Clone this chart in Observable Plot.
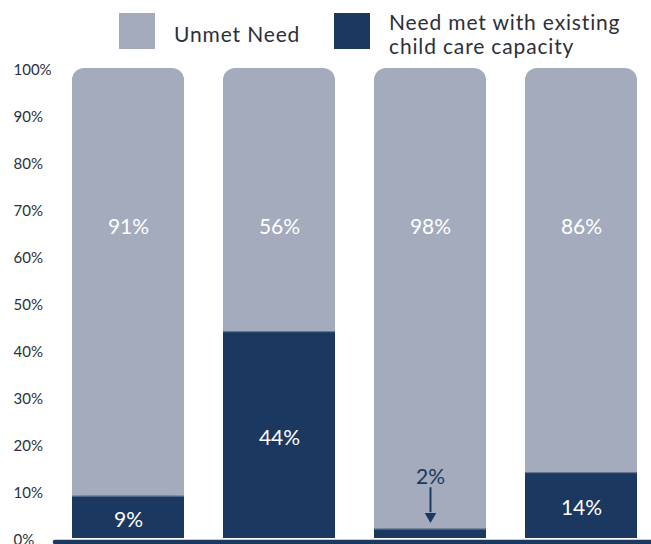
<!DOCTYPE html>
<html><head><meta charset="utf-8">
<script src="https://cdn.jsdelivr.net/npm/d3@7"></script>
<script src="https://cdn.jsdelivr.net/npm/@observablehq/plot@0.6"></script>
<style>
body{margin:0;background:#fff;font-family:Lato,"Open Sans",sans-serif;}
#wrap{position:relative;width:651px;height:544px;overflow:hidden;}
#chart{position:absolute;left:0;top:0;}
.sw{position:absolute;top:13px;width:36px;height:36px;}
.lt{position:absolute;font-size:21px;color:#2b2f3a;line-height:24px;letter-spacing:0.85px;white-space:nowrap;}
</style></head><body>
<div id="wrap">
  <div id="chart"></div>
  <div class="sw" style="left:119px;background:#a3abbd"></div>
  <div class="lt" style="left:174px;top:22px">Unmet Need</div>
  <div class="sw" style="left:334px;background:#1b3860"></div>
  <div class="lt" style="left:389px;top:10px">Need met with existing<br>child care capacity</div>
</div>
<script>
const categories = ["Bar 1", "Bar 2", "Bar 3", "Bar 4"];
const met = [9, 44, 2, 14];
const unmet = [91, 56, 98, 86];
const yTicks = [0, 10, 20, 30, 40, 50, 60, 70, 80, 90, 100];
const unmetLabelAt = 66.3;

const GRAY = "#a3abbd";
const NAVY = "#1b3860";

const rows = categories.map((c, i) => ({c, met: met[i], unmet: unmet[i]}));
const big = rows.filter(d => d.met >= 5);
const small = rows.filter(d => d.met < 5);

const chart = Plot.plot({
  width: 651,
  height: 544,
  marginTop: 68,
  marginBottom: 6,
  marginLeft: 55,
  marginRight: 0,
  x: {domain: categories, range: [71, 637], paddingInner: 0.26, paddingOuter: 0, axis: null},
  y: {domain: [0, 100], axis: null},
  style: {fontFamily: "Lato, 'Open Sans', sans-serif", background: "transparent"},
  marks: [
    Plot.barY(rows, {x: "c", y1: "met", y2: 100, fill: GRAY, rx: 12}),
    Plot.barY(rows, {x: "c", y1: "met", y2: d => (d.met + 100) / 2, fill: GRAY}),
    Plot.barY(rows, {x: "c", y1: 0, y2: "met", fill: NAVY}),
    Plot.tickY(rows, {x: "c", y: "met", stroke: "#6a7a98", strokeWidth: 1}),
    Plot.ruleY([0], {stroke: NAVY, strokeWidth: 4.5, strokeLinecap: "round", dy: 3.5}),
    Plot.text(yTicks, {y: d => d, text: d => d + "%", frameAnchor: "left", textAnchor: "start", dx: -42, dy: 1.5, fontSize: 15, fill: "#2b2f3a"}),
    Plot.text(rows, {x: "c", y: () => unmetLabelAt, text: d => d.unmet + "%", fill: "white", fontSize: 21}),
    Plot.text(big, {x: "c", y: d => d.met / 2, text: d => d.met + "%", fill: "white", fontSize: 21, dy: 3}),
    Plot.text(small, {x: "c", y: d => d.met + 11, text: d => d.met + "%", fill: NAVY, fontSize: 21}),
    Plot.ruleX(small, {x: "c", y1: d => d.met + 8.8, y2: d => d.met + 3.5, stroke: NAVY, strokeWidth: 2}),
    Plot.dot(small, {x: "c", y: d => d.met + 2.7, symbol: "triangle", r: 4.3, fill: NAVY, stroke: null, rotate: 180})
  ]
});
document.getElementById("chart").appendChild(chart);
</script>
</body></html>
